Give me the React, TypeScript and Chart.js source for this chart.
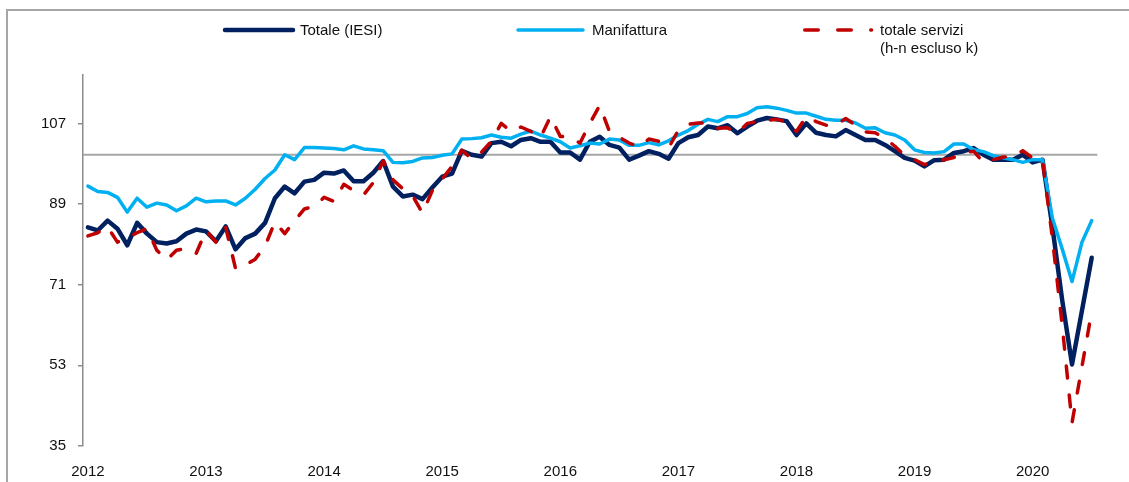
import React, { useEffect, useRef } from "react";
import { Chart, registerables } from "chart.js";

Chart.register(...registerables);

// ---- data ----
const yearLabels = ["2012", "2013", "2014", "2015", "2016", "2017", "2018", "2019", "2020"];
const yearTickIndex = [0, 12, 24, 36, 48, 60, 72, 84, 96]; // month index of each year label (Jan)
const yTicks = [35, 53, 71, 89, 107];
const referenceLevel = 100;
const xMin = -0.5;
const xMax = 102.6;
const yMin = 35;
const yMax = 117.8;

const seriesNames = ["Totale (IESI)", "Manifattura", "totale servizi", "(h-n escluso k)"];

// monthly, Jan 2012 - Jul 2020
const totale = [
  83.8, 83.1, 85.3, 83.5, 79.8, 84.8, 82.4, 80.5, 80.2, 80.7, 82.4, 83.3,
  82.9, 80.7, 84.0, 78.9, 81.4, 82.4, 84.8, 90.3, 92.9, 91.4, 94.0, 94.4,
  96.0, 95.8, 96.5, 94.1, 94.1, 96.0, 98.6, 92.9, 90.7, 91.1, 90.1, 92.7,
  95.1, 95.8, 100.9, 100.0, 99.6, 102.6, 102.9, 101.9, 103.3, 103.7, 102.9, 102.9,
  100.5, 100.5, 98.9, 102.9, 104.0, 102.2, 101.6, 98.9, 99.8, 100.8, 100.2, 99.1,
  102.6, 103.9, 104.4, 106.3, 105.9, 106.6, 104.8, 106.3, 107.6, 108.2, 107.9, 107.5,
  104.4, 107.0, 104.9, 104.4, 104.1, 105.5, 104.4, 103.3, 103.3, 102.2, 100.8, 99.3,
  98.7, 97.4, 98.8, 98.9, 100.4, 100.8, 101.5, 100.0, 98.9, 98.9, 98.9, 100.0,
  98.3, 98.9, 84.0, 67.6, 53.2, 65.1, 77.0,
];

const manifattura = [
  93.0, 91.8, 91.6, 90.5, 87.2, 90.3, 88.3, 89.2, 88.8, 87.5, 88.6, 90.3,
  89.5, 89.7, 89.7, 88.8, 90.3, 92.3, 94.7, 96.6, 100.0, 98.9, 101.6, 101.6,
  101.5, 101.4, 101.1, 102.0, 101.3, 101.1, 100.9, 98.3, 98.2, 98.5, 99.3, 99.4,
  99.9, 100.2, 103.5, 103.6, 103.8, 104.4, 103.9, 103.7, 104.6, 105.3, 104.4, 103.7,
  102.9, 101.5, 102.0, 102.6, 102.4, 103.5, 103.3, 102.1, 102.1, 102.7, 102.2, 103.1,
  104.4, 105.4, 106.8, 107.9, 107.4, 108.5, 108.5, 109.2, 110.5, 110.7, 110.4, 109.9,
  109.3, 109.3, 108.6, 107.9, 107.7, 107.7, 107.1, 105.9, 106.0, 104.9, 104.4, 103.3,
  101.1, 100.5, 100.4, 100.7, 102.4, 102.4, 101.1, 100.7, 99.8, 99.3, 98.9, 98.3,
  98.9, 98.9, 85.9, 79.0, 71.7, 80.4, 85.3,
];

const servizi = [
  81.9, 82.6, 83.9, 80.5, 81.5, 82.6, 83.5, 78.7, 76.5, 78.7, 79.1, 78.0,
  83.1, 80.5, 83.8, 74.6, 75.4, 76.7, 79.6, 85.0, 82.4, 85.3, 87.9, 88.5,
  90.5, 89.6, 93.4, 92.0, 91.0, 93.8, 98.6, 94.4, 92.4, 90.8, 87.0, 92.0,
  94.6, 97.4, 101.0, 99.1, 100.6, 103.0, 107.0, 105.2, 106.2, 105.2, 103.9, 108.5,
  104.1, 103.9, 102.6, 107.0, 111.0, 105.2, 103.9, 102.6, 101.8, 103.5, 103.0, 101.5,
  105.5, 106.8, 107.1, 107.1, 105.9, 106.0, 104.9, 107.0, 107.4, 107.7, 107.9, 107.4,
  105.2, 108.5, 107.4, 106.6, 106.6, 108.1, 106.6, 105.1, 104.9, 103.7, 101.9, 99.8,
  98.9, 97.8, 98.5, 98.9, 99.4, 100.4, 100.8, 98.3, 98.9, 99.5, 99.6, 100.9,
  99.3, 98.9, 81.5, 62.0, 40.2, 52.6, 65.0,
];

// ---- styles ----
const NAVY = "#002060";
const LIGHT = "#00b0f0";
const RED = "#c00000";
const GRAY = "#a6a6a6";
const AXIS = "#8c8c8c";
const TEXT = "#111111";
const FONT = "'Liberation Sans Narrow','Arial Narrow','Liberation Sans',Arial,sans-serif";
const RED_DASH = [12, 17];

const toPoints = (arr: number[]) => arr.map((v, i) => ({ x: i, y: v }));

export default function App() {
  const ref = useRef<HTMLCanvasElement | null>(null);

  useEffect(() => {
    document.body.style.margin = "0";
    const canvas = ref.current;
    if (!canvas) return;
    const chart = new Chart(canvas, {
      type: "line",
      data: {
        datasets: [
          {
            label: seriesNames[0],
            data: toPoints(totale),
            borderColor: NAVY,
            borderWidth: 4.5,
            pointRadius: 0,
            tension: 0,
            borderJoinStyle: "round",
            borderCapStyle: "round",
            order: 3,
          },
          {
            label: seriesNames[1],
            data: toPoints(manifattura),
            borderColor: LIGHT,
            borderWidth: 3.5,
            pointRadius: 0,
            tension: 0,
            borderJoinStyle: "round",
            borderCapStyle: "round",
            order: 2,
          },
          {
            label: seriesNames[2],
            data: toPoints(servizi),
            borderColor: RED,
            borderWidth: 3.5,
            borderDash: RED_DASH,
            pointRadius: 0,
            tension: 0,
            borderJoinStyle: "round",
            borderCapStyle: "round",
            order: 1,
          },
          {
            label: "ref",
            data: [
              { x: xMin, y: referenceLevel },
              { x: xMax, y: referenceLevel },
            ],
            borderColor: GRAY,
            borderWidth: 1.8,
            pointRadius: 0,
            order: 4,
          },
        ],
      },
      options: {
        animation: false,
        responsive: false,
        events: [],
        layout: { padding: { left: 0, top: 75, right: 31.4, bottom: 0 } },
        plugins: { legend: { display: false }, tooltip: { enabled: false } },
        scales: {
          x: {
            type: "linear",
            min: xMin,
            max: xMax,
            grid: { display: false },
            border: { display: false },
            ticks: {
              autoSkip: false,
              maxRotation: 0,
              padding: 9,
              color: TEXT,
              font: { family: FONT, size: 15 },
              callback: (_v: any, i: number) => yearLabels[i],
            },
            afterBuildTicks: (s: any) => {
              s.ticks = yearTickIndex.map((v) => ({ value: v }));
            },
            afterFit: (s: any) => {
              s.height = 36;
            },
          },
          y: {
            min: yMin,
            max: yMax,
            grid: {
              display: true,
              drawOnChartArea: false,
              drawTicks: true,
              tickLength: 5,
              color: AXIS,
              lineWidth: 1.5,
            },
            border: { display: true, color: AXIS, width: 1.5 },
            ticks: {
              padding: 12,
              color: TEXT,
              font: { family: FONT, size: 15 },
            },
            afterBuildTicks: (s: any) => {
              s.ticks = yTicks.map((v) => ({ value: v }));
            },
            afterFit: (s: any) => {
              s.width = 83;
            },
          },
        },
      },
    } as any);
    return () => chart.destroy();
  }, []);

  const textStyle: React.CSSProperties = {
    position: "absolute",
    fontFamily: FONT,
    fontSize: 15,
    color: TEXT,
    lineHeight: "18px",
    whiteSpace: "nowrap",
  };

  return (
    <div
      style={{
        position: "fixed",
        left: 0,
        top: 0,
        width: 1129,
        height: 482,
        overflow: "hidden",
        background: "#fff",
      }}
    >
      <div
        style={{
          position: "absolute",
          left: 6,
          top: 9,
          width: 1200,
          height: 600,
          borderLeft: `2px solid ${GRAY}`,
          borderTop: `2px solid ${GRAY}`,
        }}
      />
      <canvas ref={ref} width={1129} height={482} style={{ position: "absolute", left: 0, top: 0 }} />
      <svg width={1129} height={70} style={{ position: "absolute", left: 0, top: 0 }}>
        <line x1={225} y1={30} x2={293} y2={30} stroke={NAVY} strokeWidth={4.5} strokeLinecap="round" />
        <line x1={518} y1={30} x2={583} y2={30} stroke={LIGHT} strokeWidth={3.5} strokeLinecap="round" />
        <line
          x1={804.75}
          y1={30}
          x2={871.5}
          y2={30}
          stroke={RED}
          strokeWidth={3.5}
          strokeLinecap="round"
          strokeDasharray="13.5 19.5"
        />
      </svg>
      <div style={{ ...textStyle, left: 300, top: 21 }}>{seriesNames[0]}</div>
      <div style={{ ...textStyle, left: 592, top: 21 }}>{seriesNames[1]}</div>
      <div style={{ ...textStyle, left: 880, top: 21 }}>
        {seriesNames[2]}
        <br />
        {seriesNames[3]}
      </div>
    </div>
  );
}
